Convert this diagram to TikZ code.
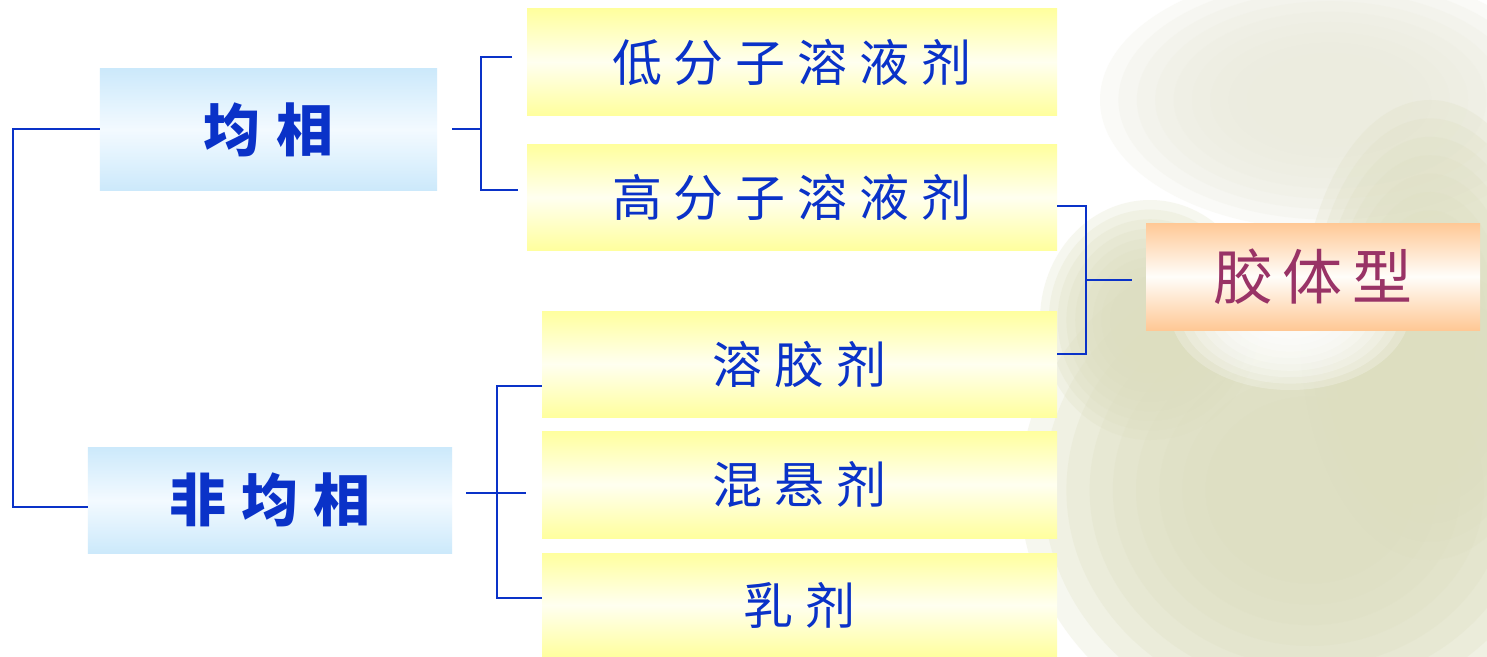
\documentclass[tikz,border=0pt]{standalone}
\usepackage{fontspec}
\newfontfamily\cjk{Noto Sans CJK SC}
\definecolor{lnblue}{HTML}{0A32C8}
\definecolor{txblue}{HTML}{0A32C8}
\definecolor{txplum}{HTML}{993366}
\definecolor{yA}{HTML}{FFFF9E}
\definecolor{yB}{HTML}{FFFFF0}
\definecolor{bA}{HTML}{CCE9FB}
\definecolor{bB}{HTML}{F3FAFF}
\definecolor{oA}{HTML}{FFC895}
\definecolor{oB}{HTML}{FFFDFA}
\definecolor{bgA}{HTML}{DDDEC0}
\definecolor{bgB}{HTML}{ECECDE}
\newcommand\softblob[5]{%
  \foreach \s in {1.0,0.92,0.84,0.76,0.68,0.6,0.52,0.44,0.36}
    \fill[#1, opacity=0.24] (#2,#3) ellipse ({\s*#4} and {\s*#5});}
\tikzset{
  ybox/.style={rectangle, inner sep=0pt, top color=yA, bottom color=yA, middle color=yB, text=txblue,
    font=\cjk\fontsize{50bp}{50bp}\selectfont},
  bbox/.style={rectangle, inner sep=0pt, top color=bA, bottom color=bA, middle color=bB, text=txblue,
    font=\cjk\bfseries\fontsize{57bp}{57bp}\selectfont},
  obox/.style={rectangle, inner sep=0pt, top color=oA, bottom color=oA, middle color=oB, text=txplum,
    font=\cjk\fontsize{60bp}{60bp}\selectfont},
  conn/.style={draw=lnblue, line width=2bp}
}
\begin{document}
\begin{tikzpicture}[x=1bp, y=-1bp]
\useasboundingbox (0,0) rectangle (1487,657);
% background
\fill[white] (0,0) rectangle (1487,657);
\begin{scope}
\clip (0,0) rectangle (1487,657);
\softblob{bgB}{1330}{100}{230}{130}
\softblob{bgA}{1310}{490}{290}{260}
\softblob{bgA}{1430}{330}{130}{230}
\softblob{bgA}{1150}{320}{110}{120}
\softblob{white}{1290}{310}{120}{80}
\end{scope}
% nodes
\node[bbox, minimum width=337bp, minimum height=121bp] (jy) at (268.5,129.5) {均\kern16bp相};
\node[bbox, minimum width=364bp, minimum height=106bp] (fj) at (270,500) {非\kern15bp均\kern15bp相};
\node[ybox, minimum width=530bp, minimum height=106bp] (d1) at (792,62) {低\kern12bp分\kern12bp子\kern12bp溶\kern12bp液\kern12bp剂};
\node[ybox, minimum width=530bp, minimum height=105bp] (d2) at (792,197.5) {高\kern12bp分\kern12bp子\kern12bp溶\kern12bp液\kern12bp剂};
\node[ybox, minimum width=515bp, minimum height=106bp] (e1) at (799.5,364) {溶\kern12bp胶\kern12bp剂};
\node[ybox, minimum width=515bp, minimum height=107bp] (e2) at (799.5,484.5) {混\kern12bp悬\kern12bp剂};
\node[ybox, minimum width=515bp, minimum height=104bp] (e3) at (799.5,605) {乳\kern12bp剂};
\node[obox, minimum width=334bp, minimum height=107bp] (jt) at (1313,276.5) {胶\kern10bp体\kern10bp型};
% connectors
\coordinate (L1) at (13,129);
\coordinate (L2) at (13,507);
\draw[conn] (jy.west |- L1) -- (L1) -- (L2) -- (fj.west |- L2);
\coordinate (a0) at (452,129);
\coordinate (a1) at (481,129);
\coordinate (a2) at (481,57);
\coordinate (a3) at (481,190);
\coordinate (a4) at (512,57);
\coordinate (a5) at (518,190);
\draw[conn] (a0) -- (a1);
\draw[conn] (a4) -- (a2) -- (a3) -- (a5);
\coordinate (b0) at (466,493);
\coordinate (b1) at (526,493);
\coordinate (b2) at (497,386);
\coordinate (b3) at (497,598);
\draw[conn] (b0) -- (b1);
\draw[conn] (e1.west |- b2) -- (b2) -- (b3) -- (e3.west |- b3);
\coordinate (c1) at (1086,206);
\coordinate (c2) at (1086,354);
\coordinate (c3) at (1086,280);
\coordinate (c4) at (1132,280);
\draw[conn] (d2.east |- c1) -- (c1) -- (c2) -- (e1.east |- c2);
\draw[conn] (c3) -- (c4);
\end{tikzpicture}
\end{document}
